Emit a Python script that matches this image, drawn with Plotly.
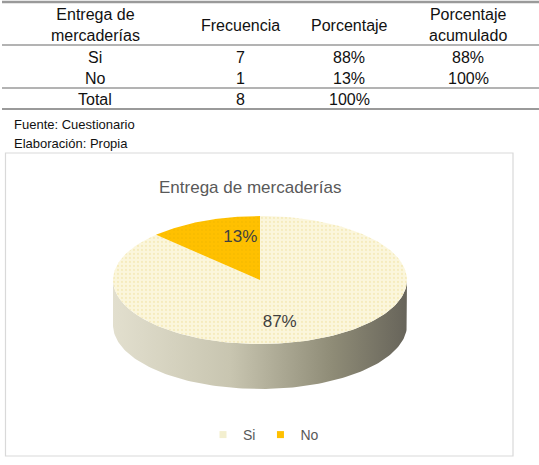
import numpy as np
import plotly.graph_objects as go

# ---- data ----
categories = ["Si", "No"]
frecuencia = [7, 1]
porcentaje = [88, 13]
acumulado = [88, 100]
total_freq = 8
total_pct = 100
headers = ["Entrega de<br>mercaderías", "Frecuencia", "Porcentaje", "Porcentaje<br>acumulado"]
pie_values = [7, 1]
pie_labels = ["87%", "13%"]
chart_title = "Entrega de mercaderías"
notes = ["Fuente: Cuestionario", "Elaboración: Propia"]

W, H = 539, 465
FONT = "Liberation Sans, Arial, sans-serif"

fig = go.Figure()

# ---- 3D-looking pie (drawn on pixel axes) ----
cx, cy, rx, ry, depth = 260, 280, 147, 64, 45
top_colors = ["#fbf6dc", "#ffc000"]
pattern_fg = ["#efe2a0", "#f2b800"]

# side (front half of the cylinder)
th = np.radians(np.linspace(180, 360, 120))
sx_top = cx + rx * np.cos(th)
sy_top = cy - ry * np.sin(th)
side_x = np.concatenate([sx_top, sx_top[::-1]])
side_y = np.concatenate([sy_top, sy_top[::-1] + depth])
fig.add_trace(go.Scatter(
    x=side_x, y=side_y, mode="lines", fill="toself",
    line=dict(width=0, color="rgba(0,0,0,0)"),
    fillgradient=dict(type="horizontal",
                      colorscale=[[0, "#e2dfce"], [0.4, "#c8c5b0"], [0.75, "#8e8b76"], [1, "#67645a"]]),
    showlegend=False, hoverinfo="skip"))

total = sum(pie_values)
start = 90.0
mids = []
for i, v in enumerate(pie_values):
    sweep = 360.0 * v / total
    end = start - sweep
    a = np.radians(np.linspace(start, end, 150))
    px = np.concatenate([[cx], cx + rx * np.cos(a), [cx]])
    py = np.concatenate([[cy], cy - ry * np.sin(a), [cy]])
    fig.add_trace(go.Scatter(
        x=px, y=py, mode="lines", fill="toself",
        line=dict(width=0, color="rgba(0,0,0,0)"),
        fillcolor=top_colors[i],
        fillpattern=dict(shape=".", fgcolor=pattern_fg[i], bgcolor=top_colors[i],
                         size=4, solidity=0.25),
        showlegend=False, hoverinfo="skip"))
    mids.append(np.radians((start + end) / 2))
    start = end

mids = np.array(mids)
fig.add_trace(go.Scatter(
    x=cx + rx * 0.35 * np.cos(mids), y=cy - ry * 0.72 * np.sin(mids),
    mode="text", text=pie_labels,
    textfont=dict(family=FONT, size=17, color="#404040"),
    showlegend=False, hoverinfo="skip"))

# legend entries
for i, c in enumerate(categories):
    fig.add_trace(go.Scatter(
        x=[None], y=[None], mode="markers", name=c,
        marker=dict(symbol="square", size=7, color=top_colors[i] if i else "#f3efcf"),
        showlegend=True))

# ---- table ----
col_x = [95, 240, 349, 468]
header_y = 25
row_y = [57, 78, 99]
ann = []
for j, h in enumerate(headers):
    ann.append(dict(x=col_x[j], y=header_y, text=h, showarrow=False,
                    font=dict(family=FONT, size=16, color="#111111"),
                    xanchor="center", yanchor="middle"))
rows = [[c, str(f), f"{p}%", f"{a}%"] for c, f, p, a in zip(categories, frecuencia, porcentaje, acumulado)]
rows.append(["Total", str(total_freq), f"{total_pct}%", ""])
for r, row in enumerate(rows):
    for j, t in enumerate(row):
        if t:
            ann.append(dict(x=col_x[j], y=row_y[r], text=t, showarrow=False,
                            font=dict(family=FONT, size=16, color="#111111"),
                            xanchor="center", yanchor="middle"))
for k, n in enumerate(notes):
    ann.append(dict(x=12, y=124 + 19 * k, text=n, showarrow=False,
                    font=dict(family=FONT, size=13, color="#111111"),
                    xanchor="left", yanchor="middle"))
ann.append(dict(x=250, y=187, text=chart_title, showarrow=False,
                font=dict(family=FONT, size=17, color="#595959"),
                xanchor="center", yanchor="middle"))

shapes = []
for yy, w in [(2, 2.5), (45, 1.5), (88, 1.5), (109, 2)]:
    shapes.append(dict(type="line", x0=2, x1=539, y0=yy, y1=yy, xref="x", yref="y",
                       line=dict(color="#9a9a9a", width=w), layer="above"))
shapes.append(dict(type="rect", x0=5.5, x1=513, y0=153, y1=456, xref="x", yref="y",
                   line=dict(color="#d9d9d9", width=1.2), layer="below"))

fig.update_layout(
    width=W, height=H,
    margin=dict(l=0, r=0, t=0, b=0),
    paper_bgcolor="white", plot_bgcolor="white",
    xaxis=dict(range=[0, W], visible=False, fixedrange=True),
    yaxis=dict(range=[H, 0], visible=False, fixedrange=True),
    annotations=ann, shapes=shapes,
    showlegend=True,
    legend=dict(orientation="h", x=203 / W, y=1 - 435 / H, xanchor="left", yanchor="middle",
                font=dict(family=FONT, size=14, color="#595959"),
                itemwidth=30, tracegroupgap=0, bgcolor="rgba(0,0,0,0)"),
)

fig.write_html("out.html")
